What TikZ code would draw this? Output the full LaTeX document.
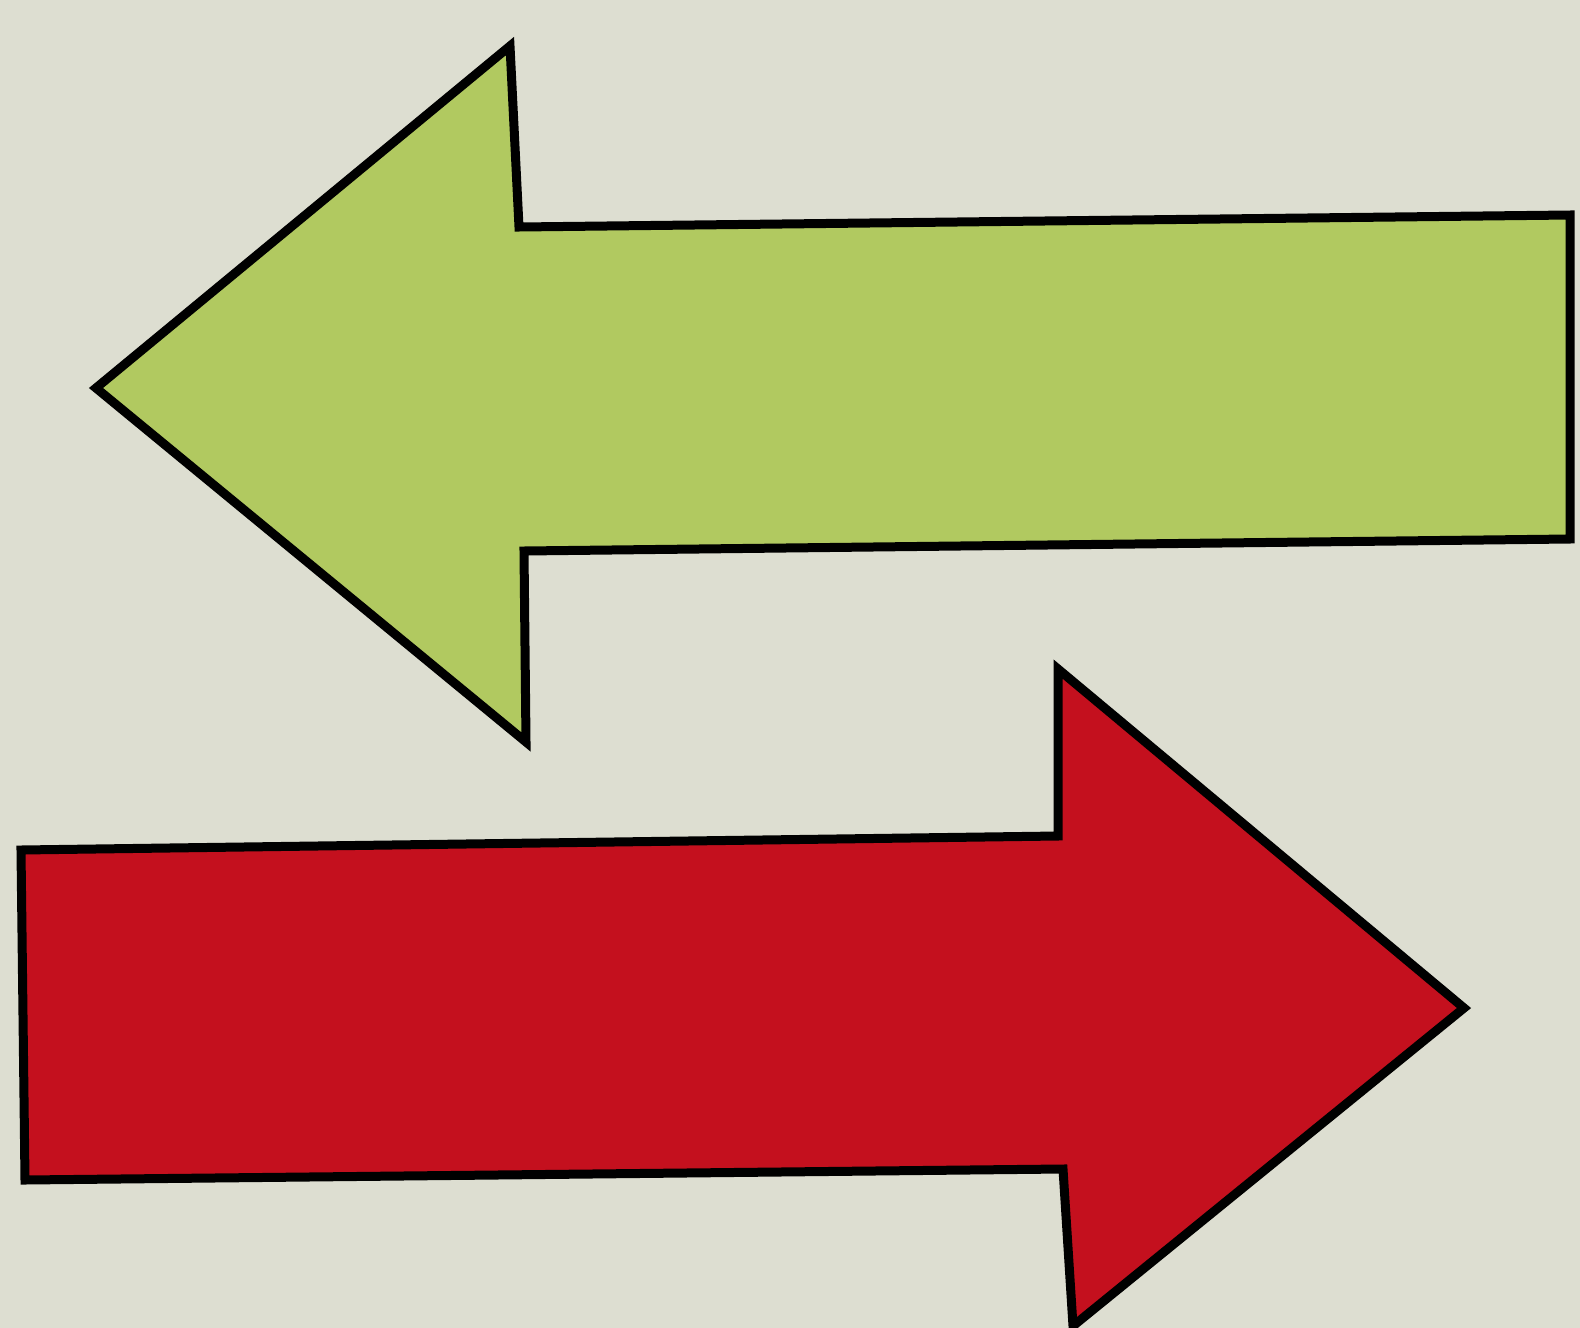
\documentclass[tikz,border=0pt]{standalone}
\usepackage{xcolor}
\usepackage{tikz}
\definecolor{paperbg}{RGB}{221, 222, 209}
\definecolor{leafgreen}{RGB}{177, 201, 96}
\definecolor{signalred}{RGB}{196, 16, 30}
\tikzset{
    blockarrow/.style={draw=black, line width=4.5pt, line join=miter},
}

\begin{document}
\begin{tikzpicture}[x=0.5pt, y=-0.5pt]
    % background
    \fill[paperbg] (0,0) rectangle (1580,1328);
    \useasboundingbox (0,0) rectangle (1580,1328);

    % left arrow
    \draw[blockarrow, fill=leafgreen]
        (96,388) -- (510,46) -- (519,227) -- (1570,215) -- (1570,539)
        -- (524,551) -- (526,742) -- cycle;

    % right arrow
    \draw[blockarrow, fill=signalred]
        (21,850) -- (1058,836) -- (1058,669) -- (1464,1008) -- (1073,1326)
        -- (1063,1169) -- (25,1180) -- cycle;
\end{tikzpicture}
\end{document}
